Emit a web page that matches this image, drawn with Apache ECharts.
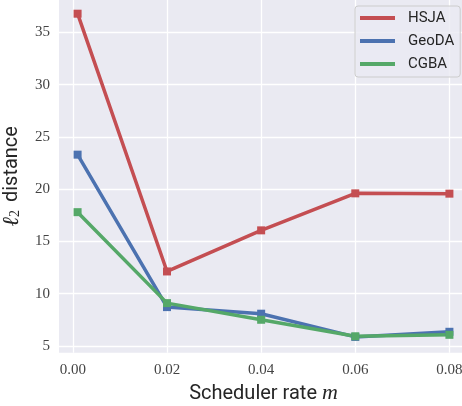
<!DOCTYPE html>
<html>
<head>
<meta charset="utf-8">
<script src="https://cdn.jsdelivr.net/npm/echarts@6/dist/echarts.min.js"></script>
<style>html,body{margin:0;padding:0;background:#fff}#c{width:462px;height:406px}</style>
</head>
<body>
<div id="c"></div>
<script>
const xValues = [0.001, 0.02, 0.04, 0.06, 0.08];
const hsja = [36.78, 12.13, 16.06, 19.6, 19.57];
const geoda = [23.3, 8.72, 8.09, 5.87, 6.36];
const cgba = [17.8, 9.1, 7.51, 5.93, 6.07];
const xTicks = [0, 0.02, 0.04, 0.06, 0.08];
const yTicks = [5, 10, 15, 20, 25, 30, 35];
const seriesNames = ['HSJA', 'GeoDA', 'CGBA'];
const colors = ['#C44E52', '#4C72B0', '#55A868'];

const chart = echarts.init(document.getElementById('c'), null, {renderer: 'canvas'});
const pairs = arr => xValues.map((x, i) => [x, arr[i]]);
const serif = '"Liberation Serif", "DejaVu Serif", serif';
const sans = 'Roboto, "Liberation Sans", sans-serif';

chart.setOption({
  animation: false,
  backgroundColor: '#ffffff',
  grid: {left: 59, right: -6, top: 0, bottom: 53.3, show: true, backgroundColor: '#EAEAF2', borderWidth: 0,
         containLabel: false, outerBoundsMode: 'none'},
  xAxis: {
    type: 'value', min: -0.00295, max: 0.08395,
    axisLine: {show: false}, axisTick: {show: false, customValues: xTicks},
    axisLabel: {customValues: xTicks, formatter: v => v.toFixed(2), color: '#444', fontFamily: serif, fontSize: 15, margin: 10},
    splitLine: {show: true, lineStyle: {color: '#ffffff', width: 1.3}},
    name: 'Scheduler rate {m|m}', nameLocation: 'middle', nameGap: 29,
    nameTextStyle: {fontFamily: sans, fontSize: 20, color: '#262626',
      rich: {m: {fontFamily: serif, fontStyle: 'italic', fontSize: 22, color: '#262626'}}}
  },
  yAxis: {
    type: 'value', min: 4.36, max: 38.09,
    axisLine: {show: false}, axisTick: {show: false, customValues: yTicks},
    axisLabel: {customValues: yTicks, color: '#444', fontFamily: serif, fontSize: 15, margin: 9},
    splitLine: {show: true, lineStyle: {color: '#ffffff', width: 1.3}},
    name: '{l|ℓ}{s|2} distance', nameLocation: 'middle', nameGap: 36, nameRotate: 90,
    nameTextStyle: {fontFamily: sans, fontSize: 20, color: '#262626',
      rich: {l: {fontFamily: serif, fontStyle: 'italic', fontSize: 23, color: '#262626'},
             s: {fontFamily: serif, fontSize: 14, color: '#262626', padding: [8, 3, 0, 0]}}}
  },
  legend: {
    left: 355, top: 6, orient: 'vertical',
    data: seriesNames.map(n => ({name: n, icon: 'rect'})),
    itemWidth: 35, itemHeight: 4, itemGap: 7,
    padding: [4, 6, 5, 5],
    backgroundColor: 'rgba(234,234,242,0.8)', borderColor: '#cccccc', borderWidth: 1, borderRadius: 3,
    textStyle: {fontFamily: sans, fontSize: 15, color: '#262626', lineHeight: 16, padding: [0, 0, 0, 8]}
  },
  series: [hsja, geoda, cgba].map((arr, i) => ({
    name: seriesNames[i], type: 'line', data: pairs(arr),
    symbol: 'rect', symbolSize: 8, showSymbol: true,
    lineStyle: {color: colors[i], width: 3.5},
    itemStyle: {color: colors[i]}
  }))
});
</script>
</body>
</html>
